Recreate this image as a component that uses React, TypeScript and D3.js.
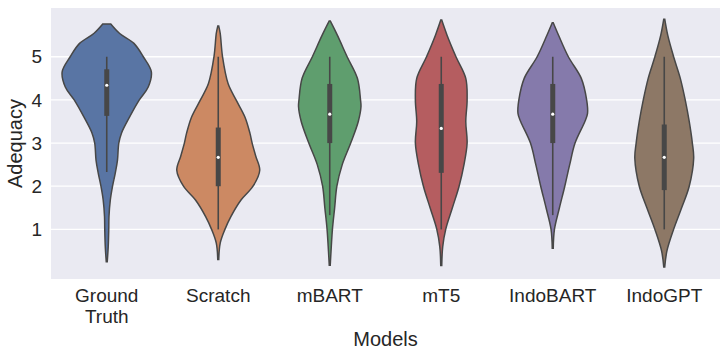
import React from 'react'
import * as d3 from 'd3'

// model names, tick labels and colours
const models = ['Ground\nTruth', 'Scratch', 'mBART', 'mT5', 'IndoBART', 'IndoGPT']
const colors = ['#5975a4', '#cc8963', '#5f9e6e', '#b55d60', '#857aab', '#8d7866']
const yTicks = [1, 2, 3, 4, 5]

// kernel density outlines: [score, relative density]
const gtDensity = [[5.76, 0.09], [5.54, 0.29], [5.31, 0.61], [5.0, 0.82], [4.65, 1.0], [4.3, 0.93], [4.0, 0.73], [3.6, 0.51], [3.23, 0.33], [3.0, 0.27], [2.6, 0.24], [2.3, 0.19], [2.0, 0.13], [1.68, 0.08], [1.3, 0.05], [1.0, 0.045], [0.6, 0.033], [0.25, 0.011]]
const scratchDensity = [[5.71, 0.011], [5.54, 0.044], [5.0, 0.096], [4.38, 0.22], [4.0, 0.4], [3.6, 0.6], [3.23, 0.71], [3.0, 0.76], [2.7, 0.84], [2.37, 0.93], [2.0, 0.78], [1.68, 0.51], [1.29, 0.28], [1.0, 0.15], [0.68, 0.044], [0.3, 0.011]]
const mbartDensity = [[5.83, 0.011], [5.5, 0.17], [5.0, 0.39], [4.5, 0.62], [4.0, 0.69], [3.84, 0.7], [3.5, 0.64], [3.0, 0.47], [2.5, 0.28], [2.0, 0.16], [1.5, 0.11], [1.0, 0.06], [0.5, 0.029], [0.17, 0.011]]
const mt5Density = [[5.85, 0.011], [5.5, 0.13], [5.0, 0.33], [4.5, 0.55], [4.0, 0.58], [3.5, 0.55], [3.0, 0.58], [2.5, 0.51], [2.0, 0.4], [1.5, 0.25], [1.0, 0.1], [0.6, 0.033], [0.16, 0.011]]
const indobartDensity = [[5.79, 0.011], [5.5, 0.13], [5.0, 0.35], [4.5, 0.64], [4.0, 0.76], [3.69, 0.78], [3.5, 0.72], [3.0, 0.5], [2.5, 0.38], [2.0, 0.27], [1.5, 0.15], [1.0, 0.038], [0.56, 0.011]]
const indogptDensity = [[5.87, 0.011], [5.5, 0.078], [5.0, 0.21], [4.5, 0.36], [4.0, 0.47], [3.5, 0.56], [3.0, 0.63], [2.65, 0.66], [2.0, 0.56], [1.5, 0.39], [1.0, 0.21], [0.5, 0.06], [0.13, 0.011]]
const densities = [gtDensity, scratchDensity, mbartDensity, mt5Density, indobartDensity, indogptDensity]

// inner box stats
const whiskerLow = [2.33, 1.0, 1.33, 1.0, 1.33, 1.0]
const q1 = [3.63, 2.0, 3.0, 2.31, 3.0, 1.91]
const medians = [4.34, 2.67, 3.67, 3.34, 3.67, 2.67]
const q3 = [4.71, 3.36, 4.37, 4.37, 4.37, 3.43]
const whiskerHigh = [5.0, 5.0, 5.0, 5.0, 5.0, 5.0]

const W = 727
const H = 357
const margin = { top: 8, right: 7, bottom: 78, left: 51 }
const edge = '#474747'
const textColor = '#262626'
const font = '"Liberation Sans", Arial, sans-serif'

export default function App() {
  const x = d3
    .scaleBand()
    .domain(models)
    .range([margin.left, W - margin.right])
    .padding(0)
  const y = d3
    .scaleLinear()
    .domain([-0.15, 6.13])
    .range([H - margin.bottom, margin.top])
  const dens = d3
    .scaleLinear()
    .domain([0, 1])
    .range([0, x.bandwidth() * 0.4])

  return (
    <svg
      width={W}
      height={H}
      style={{ position: 'absolute', left: 0, top: 0, background: '#fff' }}
      fontFamily={font}
    >
      <rect
        x={margin.left}
        y={margin.top}
        width={W - margin.left - margin.right}
        height={H - margin.top - margin.bottom}
        fill="#eaeaf2"
      />
      {yTicks.map(t => (
        <g key={t}>
          <line
            x1={margin.left}
            x2={W - margin.right}
            y1={y(t)}
            y2={y(t)}
            stroke="#fff"
            strokeWidth={1.3}
          />
          <text
            x={margin.left - 9}
            y={y(t)}
            dy="0.35em"
            textAnchor="end"
            fontSize={19}
            fill={textColor}
          >
            {t}
          </text>
        </g>
      ))}
      {models.map((m, i) => {
        const cx = x(m)! + x.bandwidth() / 2
        const area = d3
          .area<number[]>()
          .x0(d => cx - dens(d[1]))
          .x1(d => cx + dens(d[1]))
          .y(d => y(d[0]))
          .curve(d3.curveCatmullRom.alpha(0.5))
        return (
          <g key={m}>
            <path
              d={area(densities[i]) || ''}
              fill={colors[i]}
              stroke={edge}
              strokeWidth={1.5}
            />
            <line
              x1={cx}
              x2={cx}
              y1={y(whiskerLow[i])}
              y2={y(whiskerHigh[i])}
              stroke={edge}
              strokeWidth={1.6}
            />
            <line
              x1={cx}
              x2={cx}
              y1={y(q1[i])}
              y2={y(q3[i])}
              stroke={edge}
              strokeWidth={5}
            />
            <circle cx={cx} cy={y(medians[i])} r={1.6} fill="#fff" />
            <text
              x={cx}
              y={302}
              textAnchor="middle"
              fontSize={19}
              fill={textColor}
            >
              {m.split('\n').map((line, j) => (
                <tspan key={j} x={cx} dy={j ? 21.3 : 0}>
                  {line}
                </tspan>
              ))}
            </text>
          </g>
        )
      })}
      <text
        x={(margin.left + W - margin.right) / 2}
        y={346}
        textAnchor="middle"
        fontSize={20}
        fill={textColor}
      >
        Models
      </text>
      <text
        transform={`translate(22,${(margin.top + H - margin.bottom) / 2}) rotate(-90)`}
        textAnchor="middle"
        fontSize={20}
        fill={textColor}
      >
        Adequacy
      </text>
    </svg>
  )
}
